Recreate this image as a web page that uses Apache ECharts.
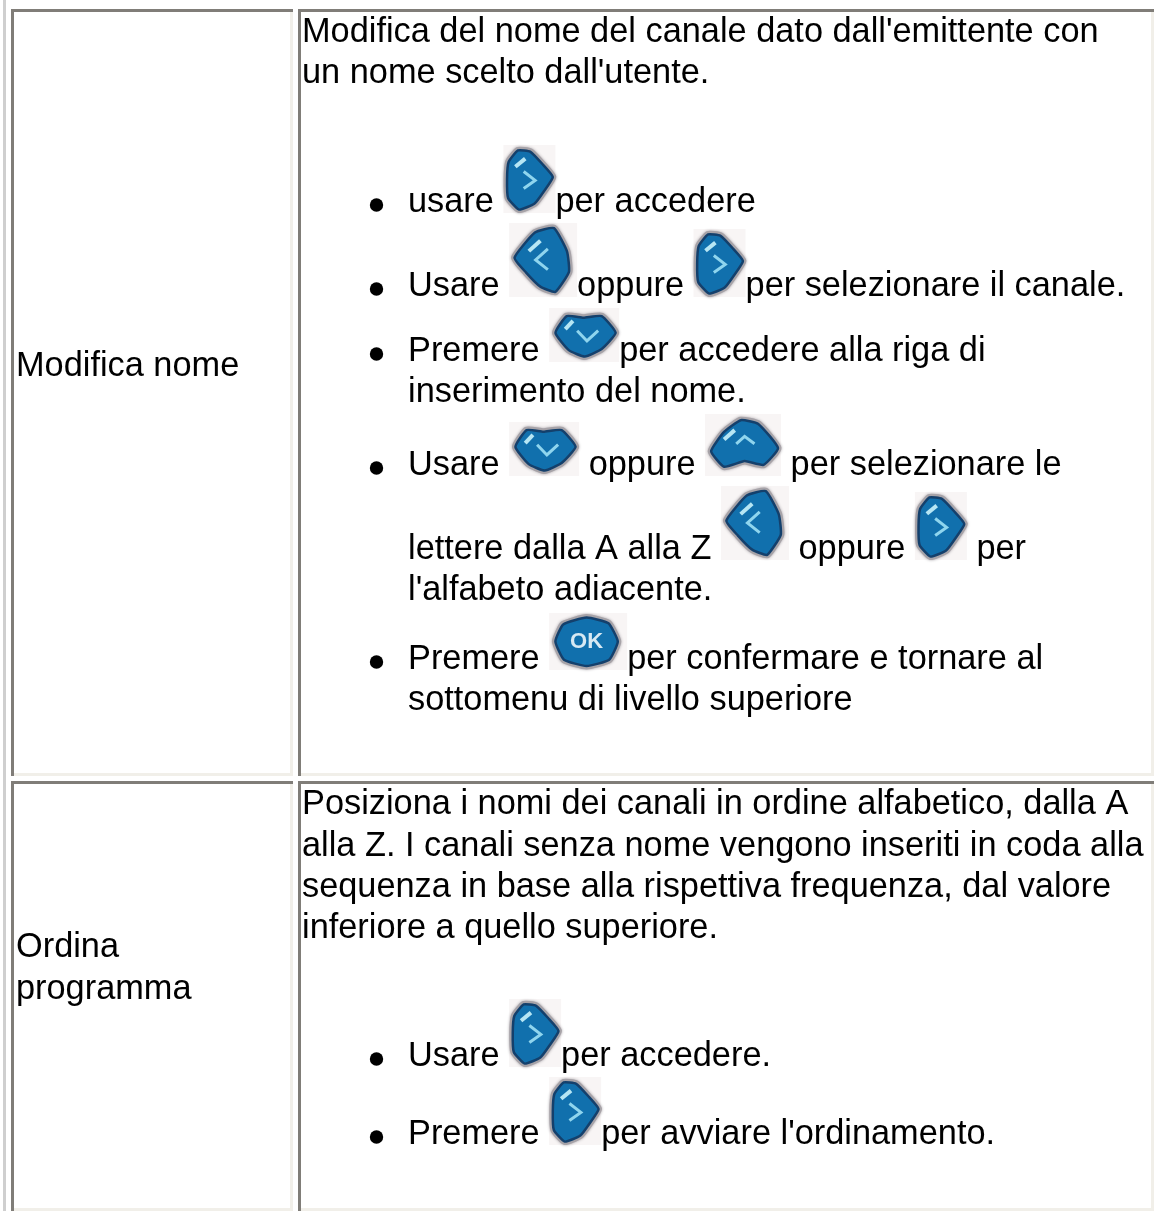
<!DOCTYPE html>
<html><head><meta charset="utf-8">
<style>html,body{margin:0;padding:0;background:#fff}#c{width:1154px;height:1211px}</style>
<script src="https://cdn.jsdelivr.net/npm/echarts@6/dist/echarts.min.js"></script>
</head><body><div id="c"></div>
<script>
const rowLabels = [["Modifica nome"], ["Ordina", "programma"]];
const row1Intro = ["Modifica del nome del canale dato dall'emittente con", "un nome scelto dall'utente."];
const row2Intro = ["Posiziona i nomi dei canali in ordine alfabetico, dalla A", "alla Z. I canali senza nome vengono inseriti in coda alla", "sequenza in base alla rispettiva frequenza, dal valore", "inferiore a quello superiore."];
const row1Bullets = ["usare |R|per accedere", "Usare |L|oppure |R|per selezionare il canale.", "Premere |D|per accedere alla riga di\ninserimento del nome.", "Usare |D| oppure |U| per selezionare le\nlettere dalla A alla Z |L| oppure |R| per\nl'alfabeto adiacente.", "Premere |K|per confermare e tornare al\nsottomenu di livello superiore"];
const row2Bullets = ["Usare |R|per accedere.", "Premere |R|per avviare l'ordinamento."];

// layout
const FONT = 34.35, FF = '"Liberation Sans", Arial, sans-serif';
const DARK = '#807d78', LIGHT = '#f1efe9', OUTER = '#cfcfcf';
const cells = [[11,9,282,767],[298,9,856,767],[11,781,282,430],[298,781,856,430]];
const ICON = {R:[52,68],L:[68,74],D:[70,54],U:[76,62],K:[78,57]};
const els = [];
const rect = (x,y,w,h,fill)=>els.push({type:'rect',silent:true,shape:{x,y,width:w,height:h},style:{fill}});
const txt = (s,x,y)=>els.push({type:'text',silent:true,x,y:y+2.8-0.3465*FONT,style:{text:s,fill:'#000',font:FONT+'px '+FF,align:'left',verticalAlign:'middle'}});

const cv = document.createElement('canvas').getContext('2d');
cv.font = FONT+'px "Liberation Sans"';
const tw = s=>cv.measureText(s).width;

const SHAPES = {
 R:[[.1,.25],[.28,.08],[.52,.1],[.75,.28],[.95,.47],[.78,.68],[.6,.86],[.3,.95],[.09,.78],[.07,.5]],
 L:[[.08,.47],[.38,.13],[.66,.07],[.85,.38],[.88,.66],[.68,.93],[.46,.86],[.25,.67]],
 D:[[.09,.46],[.25,.15],[.49,.18],[.75,.15],[.95,.46],[.75,.76],[.51,.9],[.28,.78]],
 U:[[.08,.6],[.25,.29],[.47,.1],[.7,.16],[.96,.55],[.77,.82],[.52,.76],[.25,.85]],
 K:[[.08,.5],[.18,.2],[.48,.08],[.76,.18],[.88,.5],[.77,.82],[.48,.93],[.19,.82]]
};
const CHEV = {R:[[.39,.39],[.61,.52],[.39,.64]],L:[[.57,.35],[.39,.50],[.57,.63]],D:[[.4,.42],[.54,.61],[.7,.42]],U:[[.41,.48],[.52,.36],[.65,.48]]};
const GLINT = {R:[[.23,.32],[.42,.2]],L:[[.29,.38],[.46,.24]],D:[[.23,.39],[.34,.24]],U:[[.25,.41],[.39,.26]]};

function icon(k,x,y){
  const [w,h]=ICON[k];
  const m=p=>p.map(q=>[x+q[0]*w,y+q[1]*h]);
  rect(x,y,w,h,'#f8f5f5');
  els.push({type:'polygon',silent:true,shape:{points:m(SHAPES[k]),smooth:.15},style:{fill:'#1170ad',stroke:'#a7a3a8',lineWidth:7,lineJoin:'round',shadowBlur:3,shadowColor:'#a7a3a8'}});
  els.push({type:'polygon',silent:true,shape:{points:m(SHAPES[k]),smooth:.15},style:{fill:'#1170ad',stroke:'#14406c',lineWidth:2.5,lineJoin:'round'}});
  if(k==='K'){
    els.push({type:'text',silent:true,x:x+.48*w,y:y+.5*h,style:{text:'OK',fill:'#d7e9f3',font:'bold 22px '+FF,align:'center',verticalAlign:'middle'}});
  } else {
    els.push({type:'polyline',silent:true,shape:{points:m(CHEV[k])},style:{fill:'none',stroke:'#8fd5ee',lineWidth:3}});
    els.push({type:'polyline',silent:true,shape:{points:m(GLINT[k])},style:{fill:'none',stroke:'#b6e6f4',lineWidth:4}});
  }
}

function bullet(text,baselines,x0){
  text.split('\n').forEach((ln,i)=>{
    if(i===0) els.push({type:'circle',silent:true,shape:{cx:x0-31.5,cy:baselines[0]-7,r:6.7},style:{fill:'#000'}});
    let x=x0;
    ln.split('|').forEach(seg=>{
      if(ICON[seg]){icon(seg,x,baselines[i]-ICON[seg][1]+1);x+=ICON[seg][0];}
      else if(seg){txt(seg,x,baselines[i]);x+=tw(seg);}
    });
  });
}

rect(3,0,3,1211,OUTER);
cells.forEach(([x,y,w,h])=>{
  rect(x,y+h-3,w,3,LIGHT);rect(x+w-3,y+3,3,h-3,LIGHT);
  rect(x,y,w,3,DARK);rect(x,y,3,h,DARK);
});
txt(rowLabels[0][0],16,376);
txt(rowLabels[1][0],16,957);txt(rowLabels[1][1],16,999);
const r1i=[42,83], r2i=[814,856,897,938];
row1Intro.forEach((s,i)=>txt(s,302,r1i[i]));
row2Intro.forEach((s,i)=>txt(s,302,r2i[i]));
const r1b=[[212],[296],[361,402],[475,559,600],[669,710]];
row1Bullets.forEach((b,i)=>bullet(b,r1b[i],408));
const r2b=[[1066],[1144]];
row2Bullets.forEach((b,i)=>bullet(b,r2b[i],408));

const chart=echarts.init(document.getElementById('c'),null,{renderer:'canvas'});
chart.setOption({animation:false,backgroundColor:'#fff',graphic:{elements:els}});
</script></body></html>
